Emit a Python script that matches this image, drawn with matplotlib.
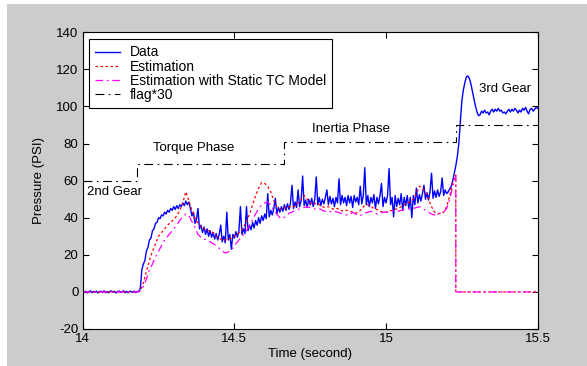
import numpy as np
import matplotlib
matplotlib.use("Agg")
import matplotlib.pyplot as plt
from matplotlib.patches import Rectangle

plt.rcParams["font.family"] = ["Liberation Sans", "DejaVu Sans"]
plt.rcParams["axes.unicode_minus"] = False

# measured pressure, sampled every 5 ms from 14.0 s
data_t0, data_dt = 14.0, 0.005
data_psi = [
    0.5, -0.3, 0.4, -0.5, 0.2, 0.6, -0.4, 0.3, -0.2, 0.5, -0.6, 0.1, 0.4, -0.3, 0.6, -0.4, 0.2, -0.5, 0.3, 0.5,
    -0.2, 0.4, -0.6, 0.2, 0.5, -0.3, 0.1, 0.6, -0.4, 0.3, -0.5, 0.4, 0.2, -0.3, 0.5, -0.4, 0.3, 0.1,
    2, 12, 15, 17, 22, 24, 28, 29, 33, 34, 37, 37.5, 40, 39.5, 41.5, 41, 43, 42, 44, 43,
    45, 44, 46, 44.5, 46.5, 45, 47, 46, 48, 46.5, 49, 47, 48.5,
    45, 41, 43, 37, 39, 45, 34, 36, 32, 35, 31, 34, 30, 33, 29.5, 32, 28.5, 31.5, 28, 31,
    36, 27, 30, 26.5, 43, 28, 31, 23, 31,
    29, 32.5, 29.5, 33, 46, 31, 34, 31.5, 46, 33, 36, 33.5, 37.5, 34.5, 38.5, 36, 40, 37, 41, 38.5,
    42, 39.5, 53, 40.5, 44, 41.5, 45, 50.5, 42, 45.5, 43, 46, 43.5, 47, 44, 47.5, 44.5, 48, 57.5, 45,
    48.5,
    45.5, 55, 46, 49, 62.5, 46.5, 49.5, 45.5, 50, 47, 50.5, 46, 50, 62, 47, 51, 46.5, 50, 47.5, 51,
    55, 47, 51.5, 47.5, 50.5, 46, 51, 48, 61, 47, 52, 48, 51, 46.5, 52, 48, 51.5, 45.5, 52, 48.5,
    51, 47, 57, 47.5, 52, 67, 47, 52, 46, 51, 48, 52.5, 45, 51, 47.5, 52, 58.5, 46, 51, 48,
    52, 66.5, 47, 51, 40.5, 52, 46, 50.5, 47, 53, 44, 51, 46.5, 52, 45, 51, 40, 52, 47, 56,
    48, 52.5, 49, 53, 57.5, 50, 53.5, 49.5, 54, 64, 50.5, 54.5, 51, 55, 51.5, 54, 61.5, 52, 55, 53,
    54, 55.5, 57, 60, 64,
    68, 73, 80, 92, 103, 109, 113, 116, 116.5, 115, 112, 108, 104, 100, 97, 95, 95.5, 97.5, 96.5, 98,
    96.5, 97, 95.5, 97.5, 98.5, 97, 98.5, 97.5, 99, 97.5, 98, 96.5, 97, 96, 97.5, 98.5, 97, 98.5, 97.5, 99,
    98, 96.5, 98, 97, 99, 98, 99.5, 97.5, 96, 98.5, 99, 97.5, 98.5, 99.5, 99,
]

# model outputs, sampled every 10 ms from 14.0 s up to the shift end
model_dt = 0.01
estimation = [
    0, 0, 0, 0, 0, 0, 0, 0, 0, 0, 0, 0, 0, 0, 0, 0, 0, 0, 0,
    0.5, 5, 11, 17, 22, 26, 30, 32, 34, 36, 37.5, 39, 41, 44, 48, 54, 49, 44, 40, 37, 35,
    34, 33, 33, 32, 30, 29, 28, 28, 28.5, 29, 30, 31, 32.5, 35, 38, 42, 47, 52, 56, 59,
    58.5, 57, 54, 49, 46, 44.5, 45, 45.5, 46, 45.5, 46.5, 48, 50, 52, 50, 48, 47, 48, 47, 46,
    45.5, 46, 45, 44.5, 45, 44, 43.5, 44, 43.5, 43, 42.5, 43, 45, 46.5, 47, 46, 45, 44.5, 43.5, 43,
    43, 43.5, 44, 44.5, 45, 46, 47, 48, 48.5, 50, 53, 57, 56, 54, 50, 46, 43, 42, 42.5, 43,
    46, 52, 59, 63,
]
static_tc = [
    0, 0, 0, 0, 0, 0, 0, 0, 0, 0, 0, 0, 0, 0, 0, 0, 0, 0, 0,
    0.5, 3, 7, 12, 15, 19, 22, 25, 28, 30, 32, 34, 36, 38.5, 40.5, 42, 41, 38, 35, 31, 29.5,
    28.5, 28, 27, 26, 25, 23.5, 22, 21, 21.5, 22.5, 25, 27, 29, 31, 33, 36, 39, 42, 45, 47,
    48, 48.5, 47, 44, 42, 40, 39.5, 41, 42.5, 43, 44, 44.5, 45, 45.5, 46, 45.5, 45, 44.5, 45, 44,
    43.5, 44, 43, 43.5, 43, 42.5, 42, 41.5, 41.5, 43, 42, 41, 41.5, 42.5, 43, 43.5, 43, 42, 42.5, 43,
    43, 43, 43.5, 44, 43.5, 44, 44.5, 45, 44.5, 45, 45.5, 46, 45, 44, 43, 42, 41.5, 42, 42.5, 43,
    45, 50, 57, 62,
]
# after the shift both models drop to zero
model_tail_t = [15.23, 15.5]
model_tail_psi = [0, 0]

# shift flag (x30)
flag_t = [14.0, 14.18, 14.18, 14.665, 14.665, 15.23, 15.23, 15.5]
flag_psi = [60, 60, 69, 69, 81, 81, 90, 90]

phase_labels = ["2nd Gear", "Torque Phase", "Inertia Phase", "3rd Gear"]
phase_t = [14.014, 14.232, 14.756, 15.307]
phase_psi = [54, 77.6, 87.8, 109.4]

xticks = [14, 14.5, 15, 15.5]
xticklabels = ["14", "14.5", "15", "15.5"]
yticks = [-20, 0, 20, 40, 60, 80, 100, 120, 140]
yticklabels = [str(v) for v in yticks]

data_time = data_t0 + data_dt * np.arange(len(data_psi))
est_time = np.concatenate([14.0 + model_dt * np.arange(len(estimation)), model_tail_t])
est_vals = np.concatenate([estimation, model_tail_psi])
tc_time = np.concatenate([14.0 + model_dt * np.arange(len(static_tc)), model_tail_t])
tc_vals = np.concatenate([static_tc, model_tail_psi])

fig = plt.figure(figsize=(5.87, 3.66), dpi=100, facecolor="white")
fig.patches.append(Rectangle((7 / 587, 0), 1, 362 / 366, transform=fig.transFigure,
                             facecolor="#cccccc", edgecolor="none", zorder=-10))
ax = fig.add_axes([0.1409, 0.1011, 0.7751, 0.8106])

fs = 9.5
ax.plot(data_time, data_psi, color="#0000ff", lw=1.0, label="Data")
ax.plot(est_time, est_vals, color="#ff0000", lw=0.9, linestyle=(0, (2, 2)), label="Estimation")
ax.plot(tc_time, tc_vals, color="#ff00ff", lw=0.9, linestyle=(0, (6, 3, 1.5, 3)),
        label="Estimation with Static TC Model")
ax.plot(flag_t, flag_psi, color="black", lw=0.8, linestyle=(0, (8, 4, 1.5, 4)), label="flag*30")

for txt, tx, ty in zip(phase_labels, phase_t, phase_psi):
    ax.text(tx, ty, txt, ha="left", va="center", fontsize=fs)

ax.set_xlim(14, 15.5)
ax.set_ylim(-20, 140)
ax.set_xticks(xticks)
ax.set_xticklabels(xticklabels)
ax.set_yticks(yticks)
ax.set_yticklabels(yticklabels)
ax.tick_params(direction="in", length=4, width=0.8, top=True, right=True,
               labelsize=fs, pad=3)
for sp in ax.spines.values():
    sp.set_linewidth(0.8)
ax.set_xlabel("Time (second)", fontsize=fs, labelpad=2)
ax.set_ylabel("Pressure (PSI)", fontsize=fs, labelpad=8)

leg = ax.legend(loc="upper left", bbox_to_anchor=(0.0138, 0.977), borderaxespad=0,
                fontsize=10, handlelength=1.8, handletextpad=0.7, labelspacing=0.02,
                borderpad=0.45, fancybox=False, framealpha=1)
leg.get_frame().set_edgecolor("black")
leg.get_frame().set_linewidth(0.8)

fig.savefig("out.png", dpi=100, facecolor=fig.get_facecolor())
